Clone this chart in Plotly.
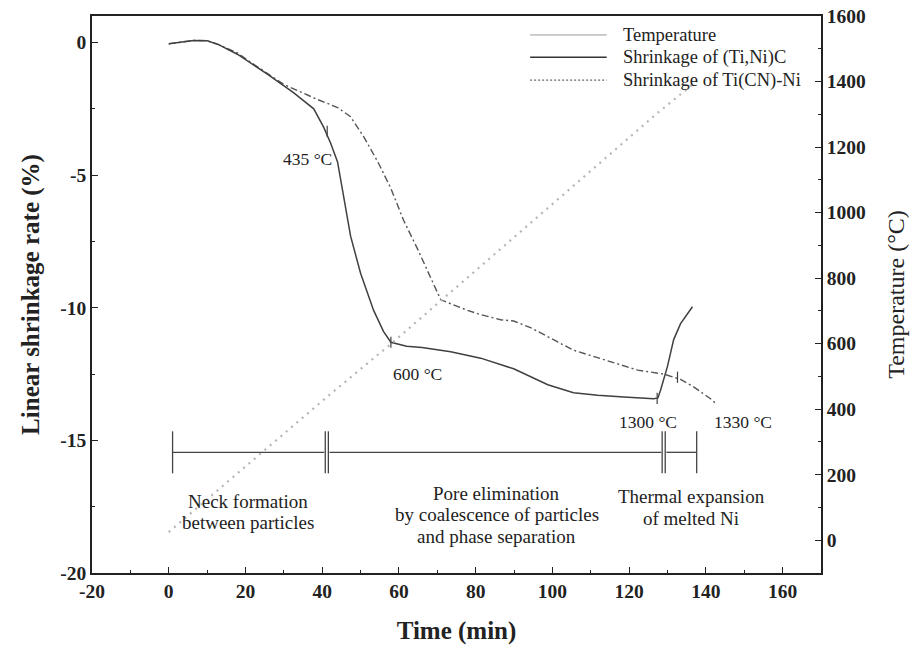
import plotly.graph_objects as go

# ---- data ----
t_tinic = [0, 3, 6.5, 10, 13, 18, 25.8, 32.6, 37.8, 40.4, 42.2, 44, 45.6, 47.4, 50, 53.4, 56, 57.9,
           62, 66, 73.5, 81.3, 89.9, 98.8, 105.5, 111.8, 118.6, 126.4, 127.5, 128.2, 130, 131.6, 133.4, 136.5]
shr_tinic = [-0.05, 0.02, 0.08, 0.07, -0.08, -0.45, -1.2, -1.9, -2.5, -3.2, -3.8, -4.5, -5.8, -7.3, -8.7, -10.1, -10.9, -11.3,
             -11.45, -11.5, -11.66, -11.9, -12.3, -12.9, -13.2, -13.3, -13.36, -13.43, -13.4, -13.1, -12.2, -11.2, -10.6, -9.96]

t_ticn = [0, 3, 6.5, 10, 13, 18, 21.4, 30, 38.8, 44, 47.4, 50.8, 54.5, 57.9, 61.2, 64.9, 68.3, 70.9, 77.9,
          81.3, 86.5, 89.9, 94.3, 98.8, 105.5, 114.4, 122.2, 129, 133.4, 137, 141.2, 142.5]
shr_ticn = [-0.05, 0.02, 0.08, 0.07, -0.08, -0.4, -0.75, -1.58, -2.15, -2.45, -2.8, -3.55, -4.5, -5.5, -6.7, -7.8, -8.9, -9.7, -10.1,
            -10.26, -10.45, -10.5, -10.75, -11.1, -11.6, -12.0, -12.35, -12.5, -12.7, -13.0, -13.43, -13.6]

t_temp = [0, 41, 58, 127, 138]
temp = [25, 435, 600, 1300, 1405]

# key temperature points on curves
key_t = [41.3, 57.9, 127.3, 132.6]
key_y = [-3.35, -11.3, -13.42, -12.62]
key_labels = ["435 °C", "600 °C", "1300 °C", "1330 °C"]
label_t = [36.2, 64.9, 125.0, 149.6]
label_y = [-4.38, -12.5, -14.3, -14.3]

# stage brackets
stage_bounds = [1, 41, 128.8, 137.6]
stage_y = -15.45
stage_lines = ["Neck formation", "between particles",
               "Pore elimination", "by coalescence of particles", "and phase separation",
               "Thermal expansion", "of melted Ni"]
stage_line_t = [20.6, 20.6, 85.5, 85.5, 85.5, 136.2, 136.2]
stage_line_y = [-17.3, -18.1, -17.0, -17.8, -18.62, -17.1, -17.95]

x_ticks = [-20, 0, 20, 40, 60, 80, 100, 120, 140, 160]
x_ticktext = ["-20", "0", "20", "40", "60", "80", "100", "120", "140", "160"]
y_ticks = [0, -5, -10, -15, -20]
y_ticktext = ["0", "-5", "-10", "-15", "-20"]
t_ticks = [0, 200, 400, 600, 800, 1000, 1200, 1400, 1600]
t_ticktext = ["0", "200", "400", "600", "800", "1000", "1200", "1400", "1600"]

SERIF = "Liberation Serif, Times New Roman, serif"
INK = "#222222"

fig = go.Figure()

fig.add_trace(go.Scatter(x=t_temp, y=temp, yaxis="y2", mode="lines",
                         line=dict(color="#b5b5b5", width=2.2, dash="2px,5px"),
                         showlegend=False, hoverinfo="skip"))
fig.add_trace(go.Scatter(x=t_ticn, y=shr_ticn, mode="lines",
                         line=dict(color="#555555", width=1.4, dash="7px,3px,2px,3px"),
                         showlegend=False))
fig.add_trace(go.Scatter(x=t_tinic, y=shr_tinic, mode="lines",
                         line=dict(color="#404040", width=1.5), showlegend=False))
fig.add_trace(go.Scatter(x=key_t, y=key_y, mode="markers",
                         marker=dict(symbol="line-ns", size=8, line=dict(color="#404040", width=1.2)),
                         showlegend=False))

# stage brackets
b = stage_bounds
gap = 0.45
seg_x = [b[0], b[1] - gap, None, b[1] + 2 * gap, b[2] - gap, None, b[2] + 2 * gap, b[3]]
fig.add_trace(go.Scatter(x=seg_x, y=[stage_y if v is not None else None for v in seg_x], mode="lines",
                         line=dict(color="#444444", width=1.3), showlegend=False))
bar_x = [b[0], b[1] - 0.2, b[1] + 0.6, b[2] - 0.2, b[2] + 0.6, b[3]]
fig.add_trace(go.Scatter(x=bar_x, y=[stage_y] * len(bar_x), mode="markers",
                         marker=dict(symbol="line-ns", size=30, line=dict(color="#444444", width=1.3)),
                         showlegend=False))

annotations = []
for txt, tx, ty in zip(key_labels, label_t, label_y):
    annotations.append(dict(x=tx, y=ty, text=txt, showarrow=False, xref="x", yref="y",
                            xanchor="center", yanchor="middle",
                            font=dict(family=SERIF, size=17.5, color=INK)))
for txt, tx, ty in zip(stage_lines, stage_line_t, stage_line_y):
    annotations.append(dict(x=tx, y=ty, text=txt, showarrow=False, xref="x", yref="y",
                            xanchor="center", yanchor="middle",
                            font=dict(family=SERIF, size=19, color=INK)))

# custom legend
legend_names = ["Temperature", "Shrinkage of (Ti,Ni)C", "Shrinkage of Ti(CN)-Ni"]
legend_styles = [dict(color="#9a9a9a", width=1, dash="solid"),
                 dict(color="#333333", width=1.5, dash="solid"),
                 dict(color="#666666", width=1.2, dash="2px,2px")]
legend_y = [0.966, 0.926, 0.885]
shapes = []
for name, st, ly in zip(legend_names, legend_styles, legend_y):
    shapes.append(dict(type="line", xref="paper", yref="paper", x0=0.601, x1=0.706, y0=ly, y1=ly,
                       line=st))
    annotations.append(dict(x=0.726, y=ly, xref="paper", yref="paper", text=name, showarrow=False,
                            xanchor="left", yanchor="middle",
                            font=dict(family=SERIF, size=18.5, color=INK)))

tickfont = dict(family=SERIF, size=19.5, color=INK, weight="bold")
titlefont = dict(family=SERIF, size=25, color=INK, weight="bold")

fig.update_layout(
    width=917, height=654,
    margin=dict(l=92, r=96, t=16, b=81),
    paper_bgcolor="white", plot_bgcolor="white",
    showlegend=False,
    annotations=annotations, shapes=shapes,
    xaxis=dict(range=[-20, 170], tickvals=x_ticks, ticktext=x_ticktext, ticks="inside", ticklen=6,
               tickwidth=1.3, automargin=False, ticklabeloverflow="allow",
               tickcolor="#222", showline=True, linecolor="#222", linewidth=1.6, mirror=True,
               showgrid=False, zeroline=False, tickfont=tickfont,
               minor=dict(ticks="inside", ticklen=3, dtick=10, tickcolor="#222", showgrid=False),
               title=dict(text="Time (min)", font=titlefont, standoff=20)),
    yaxis=dict(range=[-20, 1], tickvals=y_ticks, ticktext=y_ticktext, ticks="inside", ticklen=6,
               tickwidth=1.3, automargin=False, ticklabeloverflow="allow",
               tickcolor="#222", showline=True, linecolor="#222", linewidth=1.6, mirror=False,
               showgrid=False, zeroline=False, tickfont=tickfont,
               minor=dict(ticks="inside", ticklen=3, dtick=2.5, tickcolor="#222", showgrid=False),
               title=dict(text="Linear shrinkage rate (%)", font=titlefont, standoff=14)),
    yaxis2=dict(range=[-100, 1600], tickvals=t_ticks, ticktext=t_ticktext, overlaying="y", side="right",
                ticks="inside", automargin=False, ticklabeloverflow="allow",
                ticklen=6, tickwidth=1.3, tickcolor="#222", showline=True, linecolor="#222",
                linewidth=1.6, showgrid=False, zeroline=False, tickfont=tickfont,
                minor=dict(ticks="inside", ticklen=3, dtick=100, tickcolor="#222", showgrid=False),
                title=dict(text="Temperature (°C)", font=dict(family=SERIF, size=24, color=INK),
                           standoff=22)),
)

fig.write_html("out.html", config={"displayModeBar": False},
               post_script="document.body.style.margin='0';document.body.style.overflow='hidden';")
